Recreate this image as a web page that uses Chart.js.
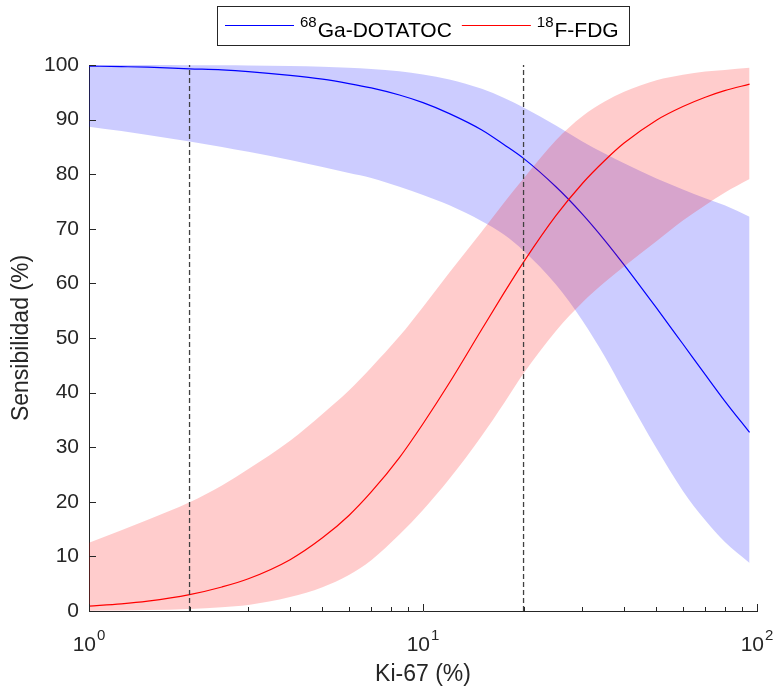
<!DOCTYPE html>
<html>
<head>
<meta charset="utf-8">
<script src="https://cdn.jsdelivr.net/npm/chart.js@4/dist/chart.umd.min.js"></script>
<style>
  html, body { margin: 0; padding: 0; background: #fff; }
  #chart { display: block; }
</style>
</head>
<body>
<canvas id="chart" width="777" height="691"></canvas>
<script>
// Ki-67 index (%) at which the fitted sensitivity curves are sampled
const kiValues = [1, 1.25, 1.5, 2, 2.5, 3, 4, 5, 6, 7, 8.5, 10, 12, 15, 17.5, 20, 25, 30, 35, 40, 50, 60, 70, 80, 95];

// 68Ga-DOTATOC sensitivity (%) with its confidence band
const gaSens  = [99.8, 99.7, 99.6, 99.3, 99.1, 98.8, 98.1, 97.4, 96.6, 95.8, 94.5, 93.1, 91.1, 88.1, 85.4, 82.9, 77.7, 72.7, 67.9, 63.4, 55.5, 48.9, 43.3, 38.5, 32.7];
const gaLower = [88.7, 87.9, 87.2, 86.0, 85.0, 84.1, 82.6, 81.3, 80.2, 79.3, 77.7, 76.2, 74.3, 71.4, 68.9, 66.0, 59.8, 53.2, 46.6, 40.2, 29.8, 22.0, 16.6, 12.7, 8.8];
const gaUpper = [100, 100, 99.99, 99.97, 99.95, 99.92, 99.82, 99.69, 99.51, 99.28, 98.84, 98.27, 97.34, 95.63, 93.96, 92.2, 88.9, 86.0, 83.8, 82.0, 79.2, 77.2, 75.6, 74.3, 72.2];

// 18F-FDG sensitivity (%) with its confidence band
const fdgSens  = [0.9, 1.3, 1.8, 3.0, 4.4, 5.9, 9.4, 13.4, 17.5, 21.8, 28.1, 34.3, 41.8, 51.6, 58.3, 63.9, 72.4, 78.3, 82.5, 85.7, 89.9, 92.4, 94.1, 95.3, 96.5];
const fdgLower = [0.06, 0.1, 0.17, 0.38, 0.69, 1.11, 2.55, 4.36, 6.6, 9.3, 14.0, 18.5, 24.2, 32.1, 38.1, 43.5, 51.3, 56.5, 60.2, 63.1, 67.7, 71.5, 74.3, 76.6, 79.1];
const fdgUpper = [12.5, 14.8, 16.7, 19.9, 23.0, 26.0, 31.2, 36.1, 40.4, 44.6, 50.3, 55.7, 62.0, 69.5, 74.8, 79.2, 86.2, 90.6, 93.3, 95.1, 97.2, 98.2, 98.8, 99.1, 99.5];

// Ki-67 cut-off values marked with dashed lines
const cutoffs = [2, 20];

// Axis ticks
const yTicks = [0, 10, 20, 30, 40, 50, 60, 70, 80, 90, 100];
const xMajorTicks = [1, 10, 100];
const xMinorTicks = [2, 3, 4, 5, 6, 7, 8, 9, 20, 30, 40, 50, 60, 70, 80, 90];

// Legend entries: isotope mass number (superscript) and tracer name
const legendSup   = ['68', '18'];
const legendNames = ['Ga-DOTATOC', 'F-FDG'];
const seriesColors = ['#0000ff', '#ff0000'];

const FONT = '"Liberation Sans", Arial, Helvetica, sans-serif';
const AXIS = '#262626';

const pts = vals => kiValues.map((k, i) => ({ x: k, y: vals[i] }));

const bandStyle = {
  borderWidth: 0, borderColor: 'rgba(0,0,0,0)', pointRadius: 0,
  cubicInterpolationMode: 'monotone'
};
const lineStyle = {
  borderWidth: 1.2, pointRadius: 0, fill: false,
  cubicInterpolationMode: 'monotone'
};

const datasets = [
  { ...bandStyle, label: 'gaUpper', data: pts(gaUpper), fill: 1, backgroundColor: 'rgba(0,0,255,0.2)', order: 6 },
  { ...bandStyle, label: 'gaLower', data: pts(gaLower), fill: false, order: 6 },
  { ...lineStyle, label: legendSup[0] + legendNames[0], data: pts(gaSens), borderColor: seriesColors[0], order: 5 },
  { ...bandStyle, label: 'fdgUpper', data: pts(fdgUpper), fill: 4, backgroundColor: 'rgba(255,0,0,0.2)', order: 4 },
  { ...bandStyle, label: 'fdgLower', data: pts(fdgLower), fill: false, order: 4 },
  { ...lineStyle, label: legendSup[1] + legendNames[1], data: pts(fdgSens), borderColor: seriesColors[1], order: 3 },
  ...cutoffs.map(c => ({
    label: 'cutoff ' + c,
    data: [{ x: c, y: yTicks[0] }, { x: c, y: yTicks[yTicks.length - 1] }],
    borderColor: '#404040', borderWidth: 1.3, borderDash: [5, 3],
    pointRadius: 0, fill: false, order: 1
  }))
];

// Inward tick marks, superscripted decade labels and the boxed legend
const axisDecor = {
  id: 'axisDecor',
  afterDraw(chart) {
    const { ctx, chartArea: { left, bottom }, scales: { x, y } } = chart;
    ctx.save();
    ctx.strokeStyle = AXIS;
    ctx.lineWidth = 1;
    ctx.beginPath();
    yTicks.forEach(v => {
      const py = Math.round(y.getPixelForValue(v)) + 0.5;
      ctx.moveTo(left, py); ctx.lineTo(left + 7, py);
    });
    xMajorTicks.forEach(v => {
      const px = Math.round(x.getPixelForValue(v)) + 0.5;
      ctx.moveTo(px, bottom); ctx.lineTo(px, bottom - 7);
    });
    xMinorTicks.forEach(v => {
      const px = Math.round(x.getPixelForValue(v)) + 0.5;
      ctx.moveTo(px, bottom); ctx.lineTo(px, bottom - 4);
    });
    ctx.stroke();

    ctx.fillStyle = AXIS;
    ctx.textBaseline = 'alphabetic';
    ctx.textAlign = 'left';
    xMajorTicks.forEach(v => {
      const px = x.getPixelForValue(v);
      const base = '10';
      const exp = String(Math.round(Math.log10(v)));
      ctx.font = '21px ' + FONT;
      const w1 = ctx.measureText(base).width;
      ctx.font = '15px ' + FONT;
      const w2 = ctx.measureText(exp).width;
      const start = px - (w1 + w2 + 1) / 2;
      ctx.font = '21px ' + FONT;
      ctx.fillText(base, start, bottom + 40);
      ctx.font = '15px ' + FONT;
      ctx.fillText(exp, start + w1 + 1, bottom + 29);
    });

    // legend box
    const box = { x: 217.5, y: 6.5, w: 412, h: 39 };
    ctx.fillStyle = '#ffffff';
    ctx.fillRect(box.x, box.y, box.w, box.h);
    ctx.strokeStyle = AXIS;
    ctx.strokeRect(box.x, box.y, box.w, box.h);
    let cx = 225;
    const lineY = 25.5, textY = 37, supY = 27;
    legendNames.forEach((name, i) => {
      ctx.strokeStyle = seriesColors[i];
      ctx.lineWidth = 1.2;
      ctx.beginPath();
      ctx.moveTo(cx, lineY); ctx.lineTo(cx + 69, lineY);
      ctx.stroke();
      cx += 69 + 6;
      ctx.fillStyle = '#000000';
      ctx.font = '15px ' + FONT;
      ctx.fillText(legendSup[i], cx, supY);
      cx += ctx.measureText(legendSup[i]).width + 1;
      ctx.font = '21px ' + FONT;
      ctx.fillText(name, cx, textY);
      cx += ctx.measureText(name).width + 10;
    });
    ctx.restore();
  }
};

new Chart(document.getElementById('chart'), {
  type: 'line',
  data: { datasets },
  plugins: [axisDecor],
  options: {
    responsive: false,
    animation: false,
    devicePixelRatio: 1,
    layout: { padding: { top: 65, right: 20, left: 0, bottom: 0 } },
    plugins: {
      legend: { display: false },
      tooltip: { enabled: false },
      filler: { propagate: false }
    },
    scales: {
      x: {
        type: 'logarithmic',
        position: 'bottom',
        min: 1, max: 100,
        grid: { display: false, drawTicks: false },
        border: { display: true, color: AXIS, width: 1 },
        ticks: { display: false },
        title: {
          display: true, text: 'Ki-67 (%)', color: AXIS,
          font: { family: FONT, size: 23 },
          padding: { top: 0, bottom: 3 }
        },
        afterFit(scale) { scale.height = 80; }
      },
      y: {
        type: 'linear',
        min: 0, max: 100,
        grid: { display: false, drawTicks: false },
        border: { display: true, color: AXIS, width: 1 },
        ticks: {
          stepSize: 10, color: AXIS, padding: 10,
          font: { family: FONT, size: 21 }
        },
        title: {
          display: true, text: 'Sensibilidad (%)', color: AXIS,
          font: { family: FONT, size: 23 },
          padding: { top: 8, bottom: 0 }
        },
        afterFit(scale) { scale.width = 89; }
      }
    }
  }
});
</script>
</body>
</html>
